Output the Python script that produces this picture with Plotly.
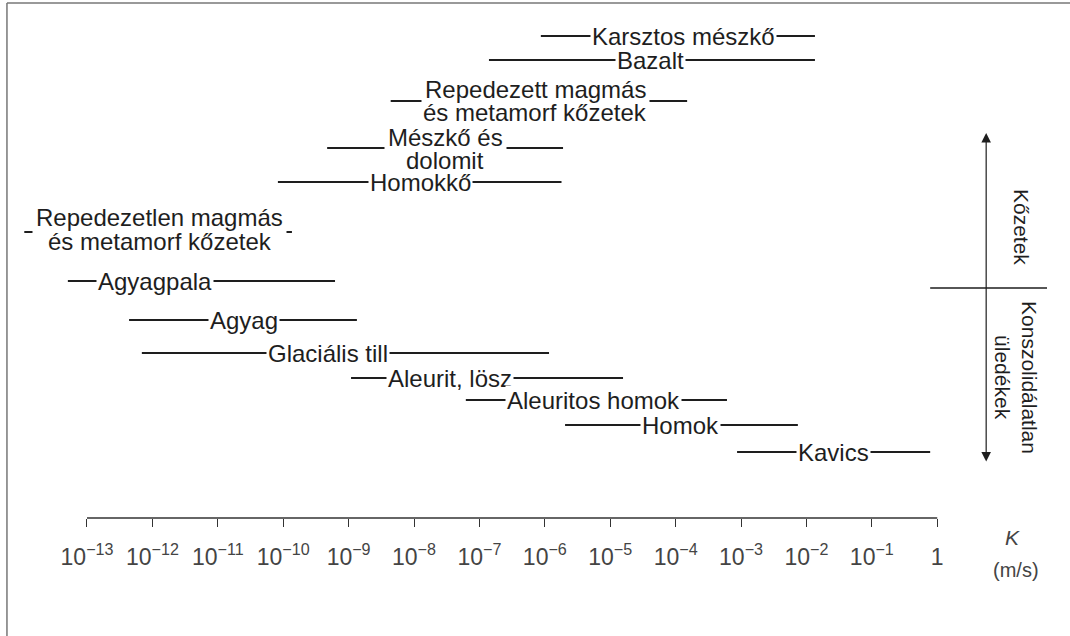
import numpy as np
import plotly.graph_objects as go

# ---- data: hydraulic conductivity ranges K (m/s) ----
materials = [
    "Karsztos mészkő",
    "Bazalt",
    "Repedezett magmás<br>és metamorf kőzetek",
    "Mészkő és<br>dolomit",
    "Homokkő",
    "Repedezetlen magmás<br>és metamorf kőzetek",
    "Agyagpala",
    "Agyag",
    "Glaciális till",
    "Aleurit, lösz",
    "Aleuritos homok",
    "Homok",
    "Kavics",
]
k_min = [8.7e-7, 1.4e-7, 4.4e-9, 4.7e-10, 8.3e-11, 1.1e-14, 5.1e-14,
         4.4e-13, 6.9e-13, 1.09e-9, 6.2e-8, 2.04e-6, 8.7e-4]
k_max = [1.35e-2, 1.35e-2, 1.5e-4, 1.9e-6, 1.8e-6, 1.36e-10, 6.2e-10,
         1.34e-9, 1.16e-6, 1.57e-5, 6.1e-4, 7.4e-3, 0.78]
label_k = [1.3e-4, 4.1e-5, 7.1e-7, 3.0e-8, 1.24e-8, 1.3e-12, 1.1e-12,
           2.5e-11, 4.8e-10, 3.5e-8, 5.5e-6, 1.17e-4, 2.55e-2]

tick_k = [1e-13, 1e-12, 1e-11, 1e-10, 1e-9, 1e-8, 1e-7, 1e-6, 1e-5,
          1e-4, 1e-3, 1e-2, 1e-1, 1]
tick_text = ["10<sup>−13</sup>", "10<sup>−12</sup>", "10<sup>−11</sup>",
             "10<sup>−10</sup>", "10<sup>−9</sup>", "10<sup>−8</sup>",
             "10<sup>−7</sup>", "10<sup>−6</sup>", "10<sup>−5</sup>",
             "10<sup>−4</sup>", "10<sup>−3</sup>", "10<sup>−2</sup>",
             "10<sup>−1</sup>", "1"]

group_top = "Kőzetek"
group_bottom = ["Konszolidálatlan", "üledékek"]

# ---- layout helpers (row placement, styles) ----
row_y = [36, 60, 101, 148, 182, 232, 281, 320, 353, 378, 400, 425, 452]
two_line_offsets = {2: (-12, 11), 3: (-11, 12), 5: (-15, 9)}
INK = "#1e1e1e"
FONT = "Liberation Sans, Arial, sans-serif"
FS = 24

fig = go.Figure()

xs, ys = [], []
for lo, hi, y in zip(k_min, k_max, row_y):
    xs += [lo, hi, None]
    ys += [y, y, None]
fig.add_trace(go.Scatter(x=xs, y=ys, mode="lines",
                         line=dict(color=INK, width=1.8),
                         hoverinfo="skip", showlegend=False))

single, first_lines, second_lines = [], [], []
for i, (name, lk, y) in enumerate(zip(materials, label_k, row_y)):
    parts = name.split("<br>")
    base = dict(x=np.log10(lk), xref="x", yref="y", showarrow=False,
                font=dict(family=FONT, size=FS, color=INK),
                xanchor="center", yanchor="middle")
    if len(parts) == 1:
        single.append(dict(base, y=y, text=name, bgcolor="white",
                           borderpad=1))
    else:
        o1, o2 = two_line_offsets[i]
        # first line carries the white box that interrupts the range line
        first_lines.append(dict(base, y=y + o1, text=parts[0],
                                bgcolor="white", borderpad=3))
        second_lines.append(dict(base, y=y + o2, text=parts[1]))

annotations = single + first_lines + second_lines

# group arrow (double headed)
arrow_x = np.log10(5.6)
annotations.append(dict(
    x=arrow_x, y=133, ax=arrow_x, ay=463, xref="x", yref="y",
    axref="x", ayref="y", text="", showarrow=True, arrowhead=2,
    arrowside="end+start", arrowsize=1.6, arrowwidth=1.2, arrowcolor=INK))
annotations.append(dict(
    x=np.log10(19.8), y=227, xref="x", yref="y", text=group_top,
    textangle=90, showarrow=False,
    font=dict(family=FONT, size=21, color=INK)))
annotations.append(dict(
    x=np.log10(26.2), y=378, xref="x", yref="y", text=group_bottom[0],
    textangle=90, showarrow=False,
    font=dict(family=FONT, size=21, color=INK)))
annotations.append(dict(
    x=np.log10(10.1), y=378, xref="x", yref="y", text=group_bottom[1],
    textangle=90, showarrow=False,
    font=dict(family=FONT, size=21, color=INK)))
# axis title
annotations.append(dict(
    x=np.log10(14), y=-0.0367, xref="x", yref="paper", text="<i>K</i>",
    showarrow=False, yanchor="middle",
    font=dict(family=FONT, size=21, color="#444")))
annotations.append(dict(
    x=np.log10(16), y=-0.1004, xref="x", yref="paper", text="(m/s)",
    showarrow=False, yanchor="middle",
    font=dict(family=FONT, size=20, color="#444")))

shapes = [
    # axis baseline from 1e-13 to 1
    dict(type="line", xref="x", yref="paper", x0=tick_k[0], x1=tick_k[-1],
         y0=0, y1=0, line=dict(color="#333", width=1.6)),
    # divider between groups
    dict(type="line", xref="x", yref="y", x0=0.78, x1=47.7, y0=288, y1=288,
         line=dict(color=INK, width=1.4)),
    # picture frame
    dict(type="line", xref="paper", yref="paper", x0=0.0065, x1=0.0065,
         y0=-0.4, y1=0.9942, line=dict(color="#777", width=1.5)),
    dict(type="line", xref="paper", yref="paper", x0=0.0065, x1=1.1,
         y0=0.9942, y1=0.9942, line=dict(color="#777", width=1.5)),
]

fig.update_layout(
    width=1070, height=636,
    margin=dict(l=0, r=0, t=0, b=118),
    paper_bgcolor="white", plot_bgcolor="white",
    showlegend=False,
    annotations=annotations, shapes=shapes,
    xaxis=dict(type="log", range=[-14.33, 2.03], showgrid=False,
               zeroline=False, showline=False, ticks="outside",
               ticklen=8, tickwidth=1.4, tickcolor="#333",
               tickvals=tick_k, ticktext=tick_text,
               tickfont=dict(family=FONT, size=23, color="#444"),
               ticklabelstandoff=10, fixedrange=True),
    yaxis=dict(range=[518, 0], visible=False, fixedrange=True),
)

fig.write_html("out.html", config={"displayModeBar": False},
               post_script="document.body.style.margin='0';")
